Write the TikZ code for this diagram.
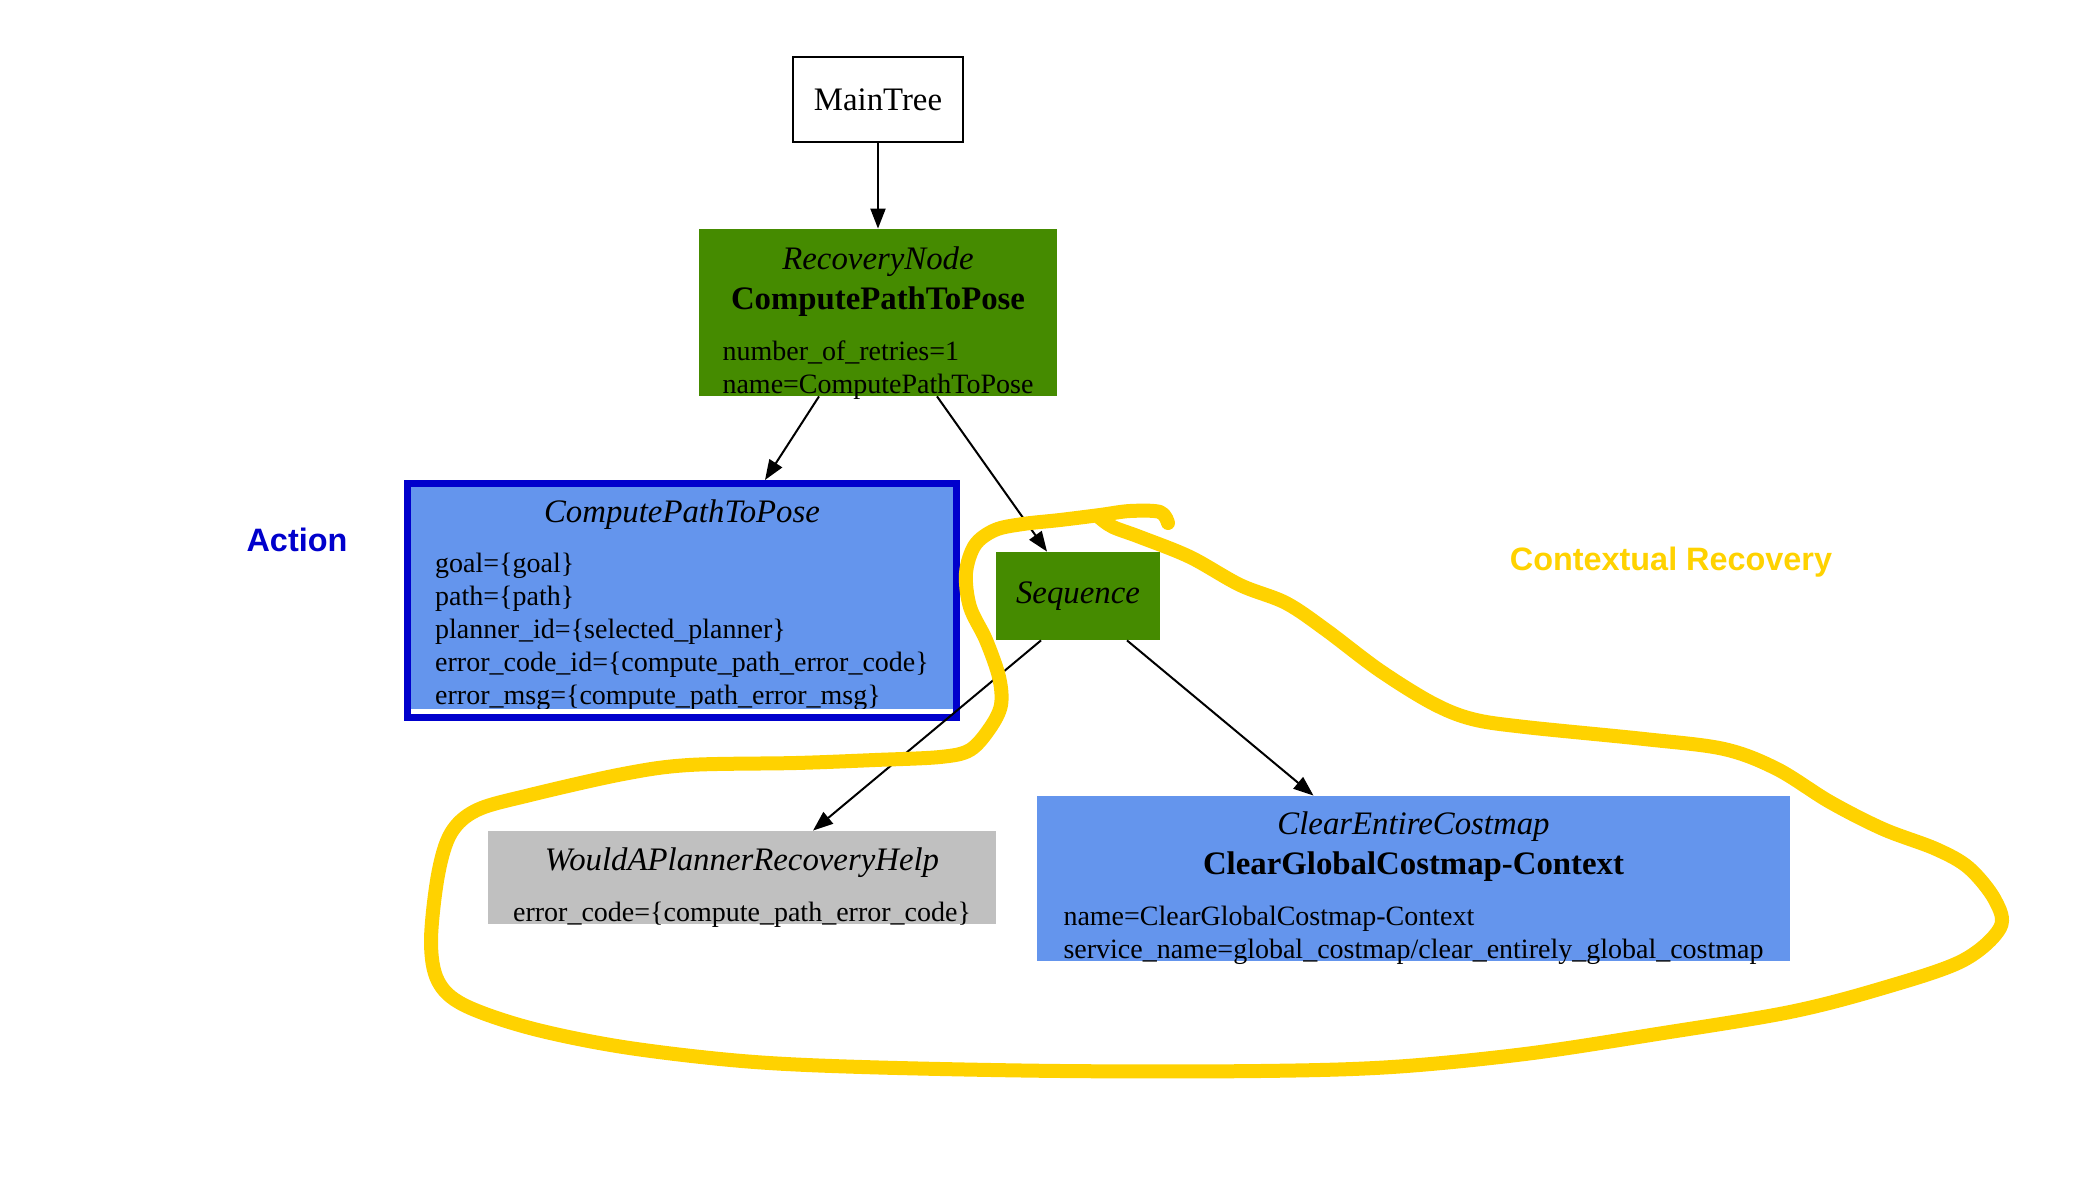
\documentclass[tikz,border=0pt]{standalone}
\usepackage{fontspec}
\setmainfont{Liberation Serif}
\newfontfamily\labelfont{Liberation Sans}
\usepackage{tikz}
\usetikzlibrary{arrows.meta}
\definecolor{treegreen}{HTML}{458B00}
\definecolor{treeblue}{HTML}{6495ED}
\definecolor{treegray}{HTML}{C0C0C0}
\definecolor{actionblue}{HTML}{0000CC}
\definecolor{ctxyellow}{HTML}{FFD200}
\newcommand{\attrlines}[1]{{\fontsize{14}{16.5}\selectfont\begin{tabular}[t]{@{}l@{}}#1\end{tabular}}}
\newcommand{\topgap}[1]{\rule{0pt}{#1}}

\begin{document}
\begin{tikzpicture}[x=0.5pt, y=-0.5pt,
    box/.style={rectangle, inner xsep=0pt, inner ysep=-8pt, align=center, font=\fontsize{16.4}{20}\selectfont},
    greenbox/.style={box, fill=treegreen},
    bluebox/.style={box, fill=treeblue},
    edge/.style={-{Triangle[length=10pt,width=7.5pt]}, line width=1pt},
    sidelabel/.style={font=\labelfont\bfseries\fontsize{16.2}{19}\selectfont}]
    \useasboundingbox (0,0) rectangle (2079,1178);

    \node[box, inner ysep=0pt, draw, line width=1pt, minimum width=85pt, minimum height=42.5pt] (main) at (878,99.5) {MainTree};
    \node[greenbox, minimum width=179pt, minimum height=83.5pt] (rec) at (878,312.5)
        {\topgap{24pt}\textit{RecoveryNode}\\ \textbf{ComputePathToPose}\\[5.5pt]
         \attrlines{number\_of\_retries=1\\ name=ComputePathToPose}};
    \node[bluebox, draw=actionblue, line width=3.5pt, minimum width=274.5pt, minimum height=117pt] (act) at (682,600.5)
        {\topgap{18pt}\textit{ComputePathToPose}\\[5pt]
         \attrlines{goal=\{goal\}\\ path=\{path\}\\ planner\_id=\{selected\_planner\}\\
            error\_code\_id=\{compute\_path\_error\_code\}\\ error\_msg=\{compute\_path\_error\_msg\}}};
    \fill[white] ([shift={(7,-12)}]act.south west) rectangle ([shift={(-7,-7)}]act.south east);
    \node[greenbox, inner ysep=0pt, minimum width=82pt, minimum height=44pt] (seq) at (1078,596) {\textit{Sequence}};
    \node[box, fill=treegray, minimum width=254pt, minimum height=46.5pt] (would) at (742,877.5)
        {\topgap{23pt}\textit{WouldAPlannerRecoveryHelp}\\[5.5pt]
         \attrlines{error\_code=\{compute\_path\_error\_code\}}};
    \node[bluebox, minimum width=376.5pt, minimum height=82.5pt] (clear) at (1413.5,878.5)
        {\topgap{23pt}\textit{ClearEntireCostmap}\\ \textbf{ClearGlobalCostmap-Context}\\[5.5pt]
         \attrlines{name=ClearGlobalCostmap-Context\\ service\_name=global\_costmap/clear\_entirely\_global\_costmap}};

    \draw[edge] (main) -- (rec);
    \draw[edge] ([shift={(-59,0)}]rec.south) -- ([shift={(83,0)}]act.north);
    \draw[edge] ([shift={(59,0)}]rec.south) -- ([shift={(-31,0)}]seq.north);
    \draw[edge] ([shift={(-37,0)}]seq.south) -- ([shift={(71,0)}]would.north);
    \draw[edge] ([shift={(49,0)}]seq.south) -- ([shift={(-100,0)}]clear.north);

    \node[sidelabel, text=actionblue] (actlabel) at (297,540) {Action};
    \node[sidelabel, text=ctxyellow] (ctxlabel) at (1671,562) {Contextual Recovery};

    % hand drawn loop round the recovery part
    \draw[ctxyellow, line width=7pt, line cap=round, line join=round] plot[smooth, tension=0.55] coordinates {
        (1168,523) (1160,512) (1130,511) (1100,515) (1060,520) (1023,524) (995,530) (975,545)
        (966,573) (970,607) (986,640) (999,677) (1001,705) (990,728) (970,750) (940,757)
        (875,760) (796,763) (689,765) (623,774) (530,795) (477,810) (451,833) (438,875)
        (431,941) (438,981) (464,1005) (530,1028) (623,1047) (742,1061) (862,1067) (1061,1071)
        (1260,1071) (1392,1067) (1525,1054) (1657,1034) (1790,1012) (1883,988) (1962,961)
        (2000,928) (1995,900) (1969,868) (1936,849) (1883,829) (1830,802) (1777,769)
        (1724,749) (1644,739) (1525,727) (1472,719) (1432,703) (1379,670) (1326,630)
        (1286,603) (1240,585) (1190,557) (1140,537) (1113,527) (1100,518)};
\end{tikzpicture}
\end{document}
